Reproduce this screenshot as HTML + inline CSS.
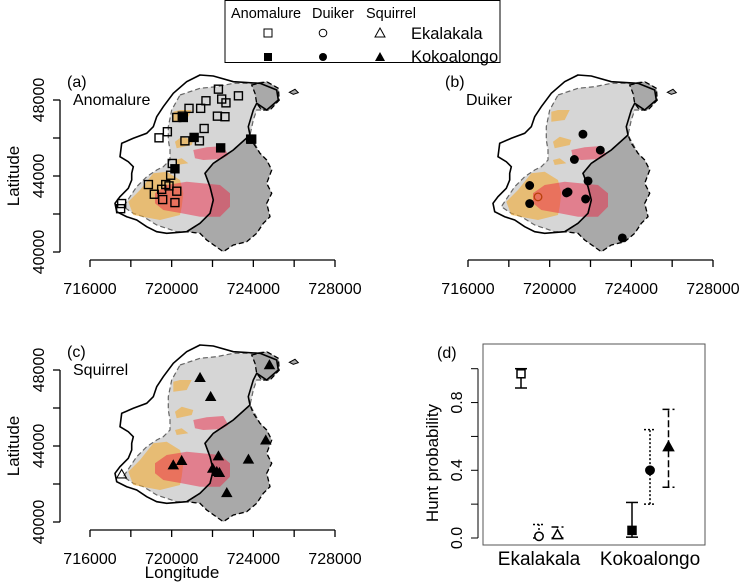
<!DOCTYPE html>
<html><head><meta charset="utf-8"><style>
body{margin:0;background:#fff}
svg{display:block;font-family:"Liberation Sans",sans-serif}
</style></head><body>
<svg id="fig" width="740" height="587" viewBox="0 0 740 587">
<g id="legend">
<rect x="225" y="0.5" width="275" height="62" fill="#fff" stroke="#000" stroke-width="1"/>
<text x="231" y="18" font-size="14.5">Anomalure</text>
<text x="312" y="18" font-size="14.5">Duiker</text>
<text x="366" y="18" font-size="14.5">Squirrel</text>
<rect x="264" y="29" width="8" height="8" fill="none" stroke="#000"/>
<circle cx="323" cy="33" r="3.8" fill="none" stroke="#000"/>
<polygon points="380,28 385,37 375,37" fill="none" stroke="#000"/>
<text x="411" y="39" font-size="16.5">Ekalakala</text>
<rect x="264" y="53" width="8" height="8" fill="#000"/>
<circle cx="323" cy="57" r="4" fill="#000"/>
<polygon points="380,52 385,61 375,61" fill="#000"/>
<text x="411" y="62" font-size="16.5">Kokoalongo</text>
</g>
</svg>
<script>
// ---- data ----
const anomOpenLon=[722290,723270,722450,722660,721680,721420,720850,720250,720520,722240,722610,721590,719790,719380,720650,721360,723870,720030,719950,718860,719710,719870,719510,719150,720250,719560,720160,717550,717500];
const anomOpenLat=[48570,48220,48050,47850,47960,47560,47560,47080,47150,47150,47120,46500,46330,46010,45850,45850,45940,44660,44040,43550,43550,43480,43300,43040,43200,42760,42600,42550,42280];
const anomFillLon=[720570,721100,722400,720160,723920];
const anomFillLat=[47080,46030,45480,44380,45940];
const duikOpenLon=[719430];
const duikOpenLat=[42900];
const duikFillLon=[721630,722480,721210,721880,719020,719020,720820,720900,721760,723560];
const duikFillLat=[46200,45360,44870,43740,43500,42550,43110,43160,42790,40740];
const squiOpenLon=[717550];
const squiOpenLat=[42510];
const squiFillLon=[724790,721390,721910,724610,722290,723760,720490,720080,722010,722210,722340,722700];
const squiFillLat=[48260,47590,46590,44300,43460,43290,43220,42990,42810,42640,42590,41530];
const lonTicks=[716000,718000,720000,722000,724000,726000,728000];
const lonLabels=[716000,720000,724000,728000];
const latTicks=[40000,42000,44000,46000,48000];
const latLabels=[40000,44000,48000];
// hunt probability panel
const huntSites=["Ekalakala","Kokoalongo"];
const huntSpecies=["Anomalure","Duiker","Squirrel"];
const huntMean=[[0.97,0.01,0.02],[0.045,0.40,0.54]];
const huntLow=[[0.886,0.0,0.0],[0.005,0.20,0.30]];
const huntHigh=[[1.0,0.08,0.065],[0.21,0.64,0.76]];
const probTicks=[0,0.2,0.4,0.6,0.8,1.0];
const probLabels=[0,0.4,0.8];

// ---- geography (reference outline, map-unit grid) ----
const outerLine=[[600,45],[640,48],[700,65],[780,70],[830,90],[835,120],[800,150],[770,130],[760,150],[745,200],[750,225],[700,270],[640,310],[615,340],[630,380],[640,420],[630,460],[600,490],[560,515],[500,520],[470,515],[440,500],[410,480],[380,470],[350,455],[345,430],[360,410],[385,385],[395,360],[395,340],[400,320],[385,305],[360,290],[365,250],[400,235],[440,220],[460,200],[470,170],[490,140],[520,100],[560,65]];
const lightPoly=[[540,105],[600,85],[650,80],[700,70],[760,70],[800,65],[835,85],[838,120],[810,150],[770,150],[760,180],[750,225],[780,280],[800,300],[815,330],[800,370],[815,400],[800,430],[810,470],[790,490],[770,520],[740,545],[700,555],[670,575],[620,540],[600,520],[560,515],[530,515],[470,495],[430,470],[400,460],[370,440],[390,410],[410,380],[440,350],[470,330],[490,320],[510,300],[510,270],[505,240],[505,200],[515,150]];
const darkPoly=[[750,225],[700,270],[640,310],[615,340],[630,380],[640,420],[630,460],[600,490],[560,515],[600,520],[620,540],[670,575],[700,555],[740,545],[770,520],[790,490],[810,470],[800,430],[815,400],[800,370],[815,330],[800,300],[780,280],[760,250]];
const darkBlob=[[755,75],[800,65],[835,85],[838,120],[810,150],[785,150],[770,130],[765,100]];
const island=[[868,97],[885,88],[895,98],[880,103]];
const orangeA=[[385,425],[420,390],[460,340],[500,335],[540,360],[550,400],[545,440],[540,465],[480,480],[400,465]];
const orangeB=[[520,155],[540,150],[575,150],[560,180],[520,185]];
const orangeC=[[525,245],[545,230],[580,240],[575,255],[530,265]];
const orangeD=[[525,300],[545,295],[565,310],[530,315]];
const redA=[[465,400],[500,375],[560,365],[660,375],[690,400],[690,440],[660,470],[600,470],[545,460],[490,450],[465,430]];
const redB=[[580,270],[620,262],[670,258],[685,285],[665,297],[610,300],[585,295]];

const NS='http://www.w3.org/2000/svg';
const svg=document.getElementById('fig');
function mk(tag,attrs,parent){const e=document.createElementNS(NS,tag);for(const k in attrs)e.setAttribute(k,attrs[k]);(parent||svg).appendChild(e);return e;}

function panel(ox,oy,label,title,openLon,openLat,fillLon,fillLat,shape,showY,showXTitle,nm){
  const g=mk('g',{});
  
  
  const X=lon=>ox+90+(lon-716000)*245/12000;
  const Y=lat=>oy+252-(lat-40000)*152/8000;
  const gp=pts=>pts.map(p=>(ox+p[0]/3).toFixed(1)+','+(oy+60+p[1]/3).toFixed(1)).join(' ');
  let e;
  e=mk('polygon',{points:gp(lightPoly),fill:'#d6d6d6',stroke:'#666','stroke-width':1.2,'stroke-dasharray':'5,3'},g);
  
  
  e=mk('polygon',{points:gp(darkPoly),fill:'#a9a9a9',stroke:'#000','stroke-width':1.3,'stroke-dasharray':'5,3'},g);
  
  
  mk('polygon',{points:gp(darkBlob),fill:'#a9a9a9',stroke:'#000','stroke-width':1.3,'stroke-dasharray':'5,3'},g);
  mk('polygon',{points:gp(island),fill:'#a9a9a9',stroke:'#000','stroke-width':1},g);
  for(const p of [orangeA,orangeB,orangeC,orangeD]){
    e=mk('polygon',{points:gp(p),fill:'rgba(242,170,50,0.6)'},g);
    
    
  }
  for(const p of [redA,redB]){
    e=mk('polygon',{points:gp(p),fill:'rgba(235,40,70,0.5)'},g);
    
    
  }
  e=mk('polygon',{points:gp(outerLine),fill:'none',stroke:'#000','stroke-width':1.6},g);
  
  
  const sym=(x,y,filled)=>{
    let m;
    if(shape==='sq') m=mk('rect',{x:x-4,y:y-4,width:8,height:8,fill:filled?'#000':'none',stroke:'#000','stroke-width':1.4},g);
    else if(shape==='ci') m=mk('circle',{cx:x,cy:y,r:3.8,fill:filled?'#000':'none',stroke:filled?'#000':'#b8400a','stroke-width':1.3},g);
    else m=mk('polygon',{points:`${x},${y-4.8} ${x+4.8},${y+3.6} ${x-4.8},${y+3.6}`,fill:filled?'#000':'none',stroke:'#000','stroke-width':1.1},g);
    return m;
  };
  for(let i=0;i<openLon.length;i++){
    const m=sym(X(openLon[i]),Y(openLat[i]),false);
    
    
  }
  for(let i=0;i<fillLon.length;i++){
    const m=sym(X(fillLon[i]),Y(fillLat[i]),true);
    
    
  }
  e=mk('line',{x1:X(716000),x2:X(728000),y1:oy+260,y2:oy+260,stroke:'#000','stroke-width':1.3},g);
  
  
  for(const t of lonTicks) mk('line',{x1:X(t),x2:X(t),y1:oy+260,y2:oy+267,stroke:'#000','stroke-width':1.3},g);
  for(const t of lonLabels){
    e=mk('text',{x:X(t),y:oy+294,'font-size':16,'text-anchor':'middle'},g);e.textContent=t;
    
    
  }
  if(showY){
    e=mk('line',{x1:60,x2:60,y1:Y(40000),y2:Y(48000),stroke:'#000','stroke-width':1.3},g);
    
    
    for(const t of latTicks) mk('line',{x1:53,x2:60,y1:Y(t),y2:Y(t),stroke:'#000','stroke-width':1.3},g);
    for(const t of latLabels){
      e=mk('text',{x:0,y:0,'font-size':16,'text-anchor':'middle',transform:`translate(44,${Y(t)}) rotate(-90)`},g);e.textContent=t;
      
      
    }
    e=mk('text',{x:0,y:0,'font-size':17,'text-anchor':'middle',transform:`translate(19,${oy+176}) rotate(-90)`},g);e.textContent='Latitude';
    
    
  }
  if(showXTitle){
    e=mk('text',{x:182,y:oy+308,'font-size':17,'text-anchor':'middle'},g);e.textContent='Longitude';
    
    
  }
  e=mk('text',{x:ox+67,y:oy+87,'font-size':16},g);e.textContent=label;
  
  
  e=mk('text',{x:ox+(showY?73:88),y:oy+105,'font-size':16},g);e.textContent=title;
  
  
}
panel(0,0,'(a)','Anomalure',anomOpenLon,anomOpenLat,anomFillLon,anomFillLat,'sq',true,false,'anomalure');
panel(378,0,'(b)','Duiker',duikOpenLon,duikOpenLat,duikFillLon,duikFillLat,'ci',false,false,'duiker');
panel(0,270,'(c)','Squirrel',squiOpenLon,squiOpenLat,squiFillLon,squiFillLat,'tr',true,true,'squirrel');

// panel d
(function(){
  const g=mk('g',{});
  
  
  const Y=v=>538-v*169.3;
  const siteX=[539,650];
  const offs=[-18,0,18.5];
  const dash=['','2,2','7,3'];
  let e=mk('rect',{x:483,y:344,width:222,height:201,fill:'none',stroke:'#555'},g);
  
  
  e=mk('line',{x1:478,x2:478,y1:Y(0),y2:Y(1),stroke:'#000'},g);
  
  
  for(const t of probTicks) mk('line',{x1:471,x2:478,y1:Y(t),y2:Y(t),stroke:'#000'},g);
  for(const t of probLabels){
    e=mk('text',{x:0,y:0,'font-size':16,'text-anchor':'middle',transform:`translate(462,${Y(t)}) rotate(-90)`},g);e.textContent=t.toFixed(1);
    
    
  }
  e=mk('text',{x:0,y:0,'font-size':17,'text-anchor':'middle',transform:`translate(438,463) rotate(-90)`},g);e.textContent='Hunt probability';
  
  
  e=mk('text',{x:437,y:358,'font-size':16},g);e.textContent='(d)';
  
  
  for(let s=0;s<huntSites.length;s++){
    e=mk('text',{x:siteX[s],y:565,'font-size':19,'text-anchor':'middle'},g);e.textContent=huntSites[s];
    
    
    for(let k=0;k<huntSpecies.length;k++){
      const x=siteX[s]+offs[k];
      const ln=mk('line',{x1:x,x2:x,y1:Y(huntLow[s][k]),y2:Y(huntHigh[s][k]),stroke:'#000','stroke-width':1.5,'stroke-dasharray':dash[k]},g);
      
      
      for(const v of [huntLow[s][k],huntHigh[s][k]]) mk('line',{x1:x-6,x2:x+6,y1:Y(v),y2:Y(v),stroke:'#000','stroke-width':1.5,'stroke-dasharray':dash[k]},g);
      const y=Y(huntMean[s][k]);const f=s?'#000':'#fff';let m;
      if(k===0) m=mk('rect',{x:x-4,y:y-4,width:8,height:8,fill:f,stroke:'#000','stroke-width':1.5},g);
      else if(k===1) m=mk('circle',{cx:x,cy:y,r:4.2,fill:f,stroke:'#000','stroke-width':1.5},g);
      else m=mk('polygon',{points:`${x},${y-5} ${x+5},${y+4} ${x-5},${y+4}`,fill:f,stroke:'#000','stroke-width':1.5},g);
      
      
    }
  }
})();
</script>
</body></html>
